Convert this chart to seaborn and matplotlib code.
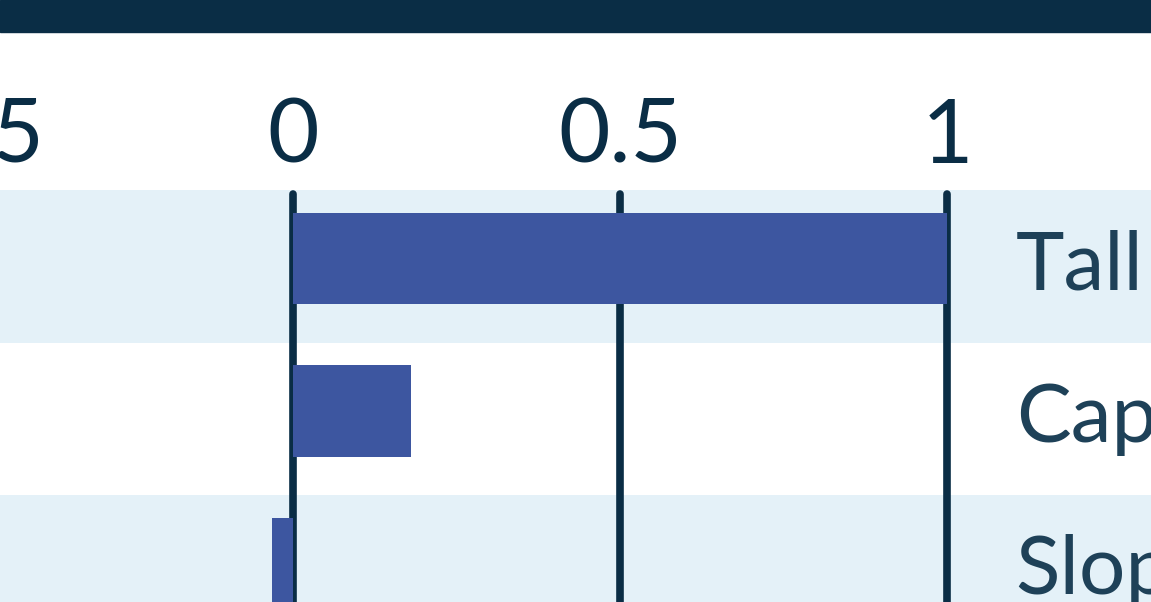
import matplotlib
matplotlib.use("Agg")
import matplotlib.pyplot as plt
import seaborn as sns
from matplotlib.patches import Rectangle

# Data
categories = ["Tall", "Capped", "Sloped"]
values = [1.0, 0.18, -0.032]
tick_values = [-0.5, 0, 0.5, 1]
tick_labels = ["-0.5", "0", "0.5", "1"]

navy = "#0a2d45"
bar_blue = "#3d56a0"
band_blue = "#e4f1f8"
label_color = "#1e4158"

sns.set_theme(style="white")
plt.rcParams["font.family"] = ["Lato", "DejaVu Sans"]

W, H = 1151, 602
px_per_x = 654.0      # pixels per unit on x
px_per_row = 152.5    # pixels per category row
x_left, x_right = -0.55, 1.312
top_px = 190
y_top = -0.449
y_bottom = y_top + (H - top_px) / px_per_row

fig = plt.figure(figsize=(W / 100, H / 100), dpi=100)
# axes reach a little past the left edge so the -0.5 label is cropped like the original
ax_left_px = -(x_left - (-0.448)) * -px_per_x
ax = fig.add_axes([-(-0.448 - x_left) * px_per_x / W, 0,
                   (x_right - x_left) * px_per_x / W, 1 - top_px / H])

sns.barplot(x=values, y=categories, orient="h", color=bar_blue, width=0.6,
            saturation=1, linewidth=0, ax=ax, zorder=3)

# alternating row bands
for i in range(len(categories)):
    if i % 2 == 0:
        ax.axhspan(i + y_top, i + y_top + 1, color=band_blue, zorder=0, lw=0)

# vertical reference lines
for t in [0, 0.5, 1]:
    ax.axvline(t, ymax=1 - 4 / (H - top_px), color=navy, lw=5.5, zorder=2)

# category labels on the right
for i, c in enumerate(categories):
    ax.text(1.105, i + 0.005, c, fontsize=59, color=label_color, va="center_baseline",
            ha="left", zorder=4)

ax.xaxis.tick_top()
ax.set_xticks(tick_values)
ax.set_xticklabels(tick_labels, fontsize=64, color=navy)
ax.tick_params(axis="x", length=0, pad=8)
ax.set_yticks([])
ax.set_xlim(x_left, x_right)
ax.set_ylim(y_bottom, y_top)
ax.set_xlabel("")
ax.set_ylabel("")
for s in ax.spines.values():
    s.set_visible(False)

# dark header band
fig.patches.append(Rectangle((0, 1 - 32 / H), 1, 32 / H, transform=fig.transFigure,
                             color=navy, zorder=5))

fig.savefig("out.png", dpi=100)
